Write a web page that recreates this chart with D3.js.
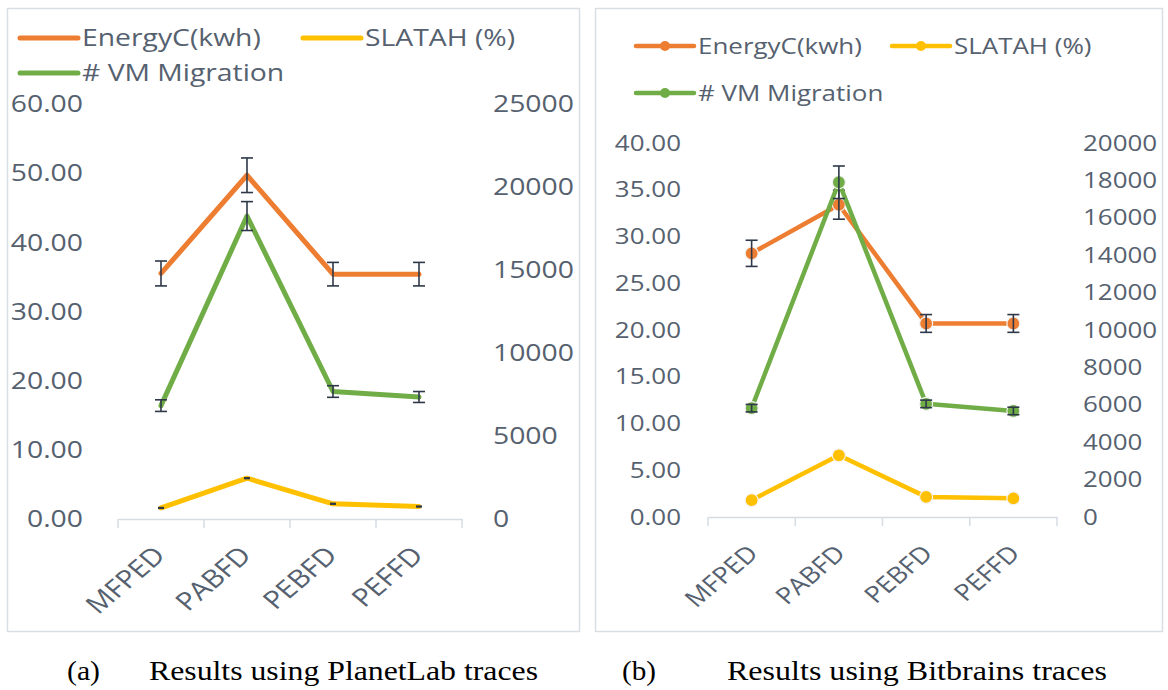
<!DOCTYPE html>
<html>
<head>
<meta charset="utf-8">
<script src="https://cdn.jsdelivr.net/npm/d3@7/dist/d3.min.js"></script>
<style>
  html, body { margin: 0; padding: 0; background: #ffffff; }
  svg { display: block; }
</style>
</head>
<body>
<svg id="fig" width="1168" height="690"></svg>
<script>
// Categories shared by both panels
const categories = ["MFPED", "PABFD", "PEBFD", "PEFFD"];

// Panel (a): PlanetLab traces
const planetEnergy = [35.5, 49.7, 35.4, 35.4];
const planetEnergyErr = [1.8, 2.5, 1.7, 1.7];
const planetSla = [1.6, 5.9, 2.2, 1.8];
const planetSlaErr = [0.05, 0.05, 0.05, 0.05];
const planetMig = [6830, 18250, 7680, 7350];
const planetMigErr = [350, 870, 350, 330];
const planetLeftTicks = [0, 10, 20, 30, 40, 50, 60];
const planetRightTicks = [0, 5000, 10000, 15000, 20000, 25000];

// Panel (b): Bitbrains traces
const bitEnergy = [28.2, 33.4, 20.7, 20.7];
const bitEnergyErr = [1.4, 1.55, 0.95, 0.95];
const bitSla = [1.8, 6.6, 2.15, 2.0];
const bitSlaErr = [0, 0, 0, 0];
const bitMig = [5820, 17900, 6050, 5670];
const bitMigErr = [200, 870, 200, 200];
const bitLeftTicks = [0, 5, 10, 15, 20, 25, 30, 35, 40];
const bitRightTicks = [0, 2000, 4000, 6000, 8000, 10000, 12000, 14000, 16000, 18000, 20000];

// Series names and colours
const seriesNames = ["EnergyC(kwh)", "SLATAH (%)", "# VM Migration"];
const seriesColors = ["#ED7D31", "#FFC000", "#70AD47"];

const FONT = "'Open Sans', 'Noto Sans', sans-serif";
const TEXT_COLOR = "#56616f";
const STRETCH = 1.18;

const svg = d3.select("#fig");

// place a horizontally widened text label at (x, y)
function wideText(g, x, y, str, size, anchor, extra) {
  return g.append("text")
    .attr("transform", `translate(${x},${y}) scale(${STRETCH},1)` + (extra || ""))
    .attr("text-anchor", anchor || "start")
    .attr("font-family", FONT)
    .attr("font-size", size)
    .attr("fill", TEXT_COLOR)
    .text(str);
}

function drawPanel(cfg) {
  const g = svg.append("g");

  // chart frame
  g.append("rect")
    .attr("x", cfg.frame[0]).attr("y", cfg.frame[1])
    .attr("width", cfg.frame[2]).attr("height", cfg.frame[3])
    .attr("fill", "#ffffff").attr("stroke", "#d9dee5").attr("stroke-width", 1.5);

  const x = d3.scaleBand().domain(categories).range([cfg.x0, cfg.x1]).padding(0);
  const yL = d3.scaleLinear().domain([0, cfg.leftMax]).range([cfg.yBottom, cfg.yTop]);
  const yR = d3.scaleLinear().domain([0, cfg.rightMax]).range([cfg.yBottom, cfg.yTop]);
  const cx = c => x(c) + x.bandwidth() / 2;

  // left value axis (labels only)
  const axL = g.append("g").attr("transform", `translate(${cfg.x0},0)`)
    .call(d3.axisLeft(yL).tickValues(cfg.leftTicks).tickSize(0).tickFormat(d3.format(".2f")));
  axL.select(".domain").remove();
  axL.selectAll(".tick text")
    .attr("x", null)
    .attr("transform", `translate(${-cfg.padL},0) scale(${STRETCH},1)`)
    .attr("font-family", FONT).attr("font-size", cfg.fontSize).attr("fill", TEXT_COLOR);

  // right value axis (labels only)
  const axR = g.append("g").attr("transform", `translate(${cfg.x1},0)`)
    .call(d3.axisRight(yR).tickValues(cfg.rightTicks).tickSize(0).tickFormat(d3.format("d")));
  axR.select(".domain").remove();
  axR.selectAll(".tick text")
    .attr("x", null)
    .attr("transform", `translate(${cfg.padR},0) scale(${STRETCH},1)`)
    .attr("font-family", FONT).attr("font-size", cfg.fontSize).attr("fill", TEXT_COLOR);

  // category axis: baseline with tick marks at band edges
  const axX = g.append("g").attr("transform", `translate(0,${cfg.yBottom})`)
    .call(d3.axisBottom(x).tickSize(0).tickFormat(""));
  axX.select(".domain").attr("stroke", "#d6dce4").attr("stroke-width", 1.5);
  const edges = categories.map(c => x(c)).concat([cfg.x1]);
  axX.selectAll("line.edge").data(edges).join("line").attr("class", "edge")
    .attr("x1", d => d).attr("x2", d => d).attr("y1", 0).attr("y2", 9)
    .attr("stroke", "#d6dce4").attr("stroke-width", 1.5);

  // rotated category labels
  categories.forEach(c => {
    wideText(g, cx(c) + cfg.labelDx, cfg.yBottom + cfg.labelDy, c, cfg.labelSize, "end", " rotate(-45)");
  });

  const series = [
    { vals: cfg.energy, err: cfg.energyErr, scale: yL, color: seriesColors[0], cap: 6 },
    { vals: cfg.sla, err: cfg.slaErr, scale: yL, color: seriesColors[1], cap: 3 },
    { vals: cfg.mig, err: cfg.migErr, scale: yR, color: seriesColors[2], cap: 6 }
  ];

  series.forEach(s => {
    const pts = categories.map((c, i) => ({ c, v: s.vals[i], e: s.err[i] }));
    const line = d3.line().x(d => cx(d.c)).y(d => s.scale(d.v));
    g.append("path").datum(pts)
      .attr("d", line).attr("fill", "none")
      .attr("stroke", s.color).attr("stroke-width", cfg.lineWidth)
      .attr("stroke-linejoin", "round").attr("stroke-linecap", "round");

    if (cfg.markers) {
      g.selectAll(null).data(pts).join("circle")
        .attr("cx", d => cx(d.c)).attr("cy", d => s.scale(d.v)).attr("r", 6.5)
        .attr("fill", s.color).attr("stroke", "#f3f3f3").attr("stroke-width", 1.2);
    }

    // error bars
    const eb = g.append("g").attr("stroke", "#2e3848").attr("stroke-width", 1.6);
    pts.filter(d => d.e > 0).forEach(d => {
      const px = cx(d.c), top = s.scale(d.v + d.e), bot = s.scale(d.v - d.e);
      eb.append("line").attr("x1", px).attr("x2", px).attr("y1", top).attr("y2", bot);
      eb.append("line").attr("x1", px - s.cap).attr("x2", px + s.cap).attr("y1", top).attr("y2", top);
      eb.append("line").attr("x1", px - s.cap).attr("x2", px + s.cap).attr("y1", bot).attr("y2", bot);
    });
  });

  // legend
  cfg.legend.forEach((p, i) => {
    const lg = g.append("g");
    lg.append("line")
      .attr("x1", p[0]).attr("x2", p[0] + 58).attr("y1", p[1]).attr("y2", p[1])
      .attr("stroke", seriesColors[i]).attr("stroke-width", cfg.lineWidth).attr("stroke-linecap", "round");
    if (cfg.markers) {
      lg.append("circle").attr("cx", p[0] + 29).attr("cy", p[1]).attr("r", 5)
        .attr("fill", seriesColors[i]);
    }
    wideText(lg, p[0] + 62, p[1], seriesNames[i], cfg.fontSize, "start").attr("dy", "0.35em");
  });
}

drawPanel({
  frame: [7.5, 8.5, 572, 623],
  x0: 118, x1: 462, yTop: 104, yBottom: 519,
  leftMax: 60, rightMax: 25000,
  leftTicks: planetLeftTicks, rightTicks: planetRightTicks,
  padL: 35, padR: 31, fontSize: 24, labelSize: 25,
  labelDx: 6, labelDy: 38,
  energy: planetEnergy, energyErr: planetEnergyErr,
  sla: planetSla, slaErr: planetSlaErr,
  mig: planetMig, migErr: planetMigErr,
  lineWidth: 5, markers: false,
  legend: [[20, 38], [303, 38], [20, 73]]
});

drawPanel({
  frame: [595.5, 8.5, 567, 623],
  x0: 708, x1: 1057, yTop: 143, yBottom: 517,
  leftMax: 40, rightMax: 20000,
  leftTicks: bitLeftTicks, rightTicks: bitRightTicks,
  padL: 27, padR: 26, fontSize: 22, labelSize: 23,
  labelDx: 8, labelDy: 38,
  energy: bitEnergy, energyErr: bitEnergyErr,
  sla: bitSla, slaErr: bitSlaErr,
  mig: bitMig, migErr: bitMigErr,
  lineWidth: 4.5, markers: true,
  legend: [[636, 46], [892, 46], [636, 93]]
});

// sub-figure captions
const captions = [
  { t: "(a)", x: 67, w: 33 },
  { t: "Results using PlanetLab traces", x: 149, w: 389 },
  { t: "(b)", x: 622, w: 34 },
  { t: "Results using Bitbrains traces", x: 727, w: 380 }
];
svg.append("g").selectAll("text").data(captions).join("text")
  .attr("x", d => d.x).attr("y", 680)
  .attr("textLength", d => d.w).attr("lengthAdjust", "spacingAndGlyphs")
  .attr("font-family", "'Liberation Serif', 'Times New Roman', serif")
  .attr("font-size", 27).attr("fill", "#000000")
  .text(d => d.t);
</script>
</body>
</html>
